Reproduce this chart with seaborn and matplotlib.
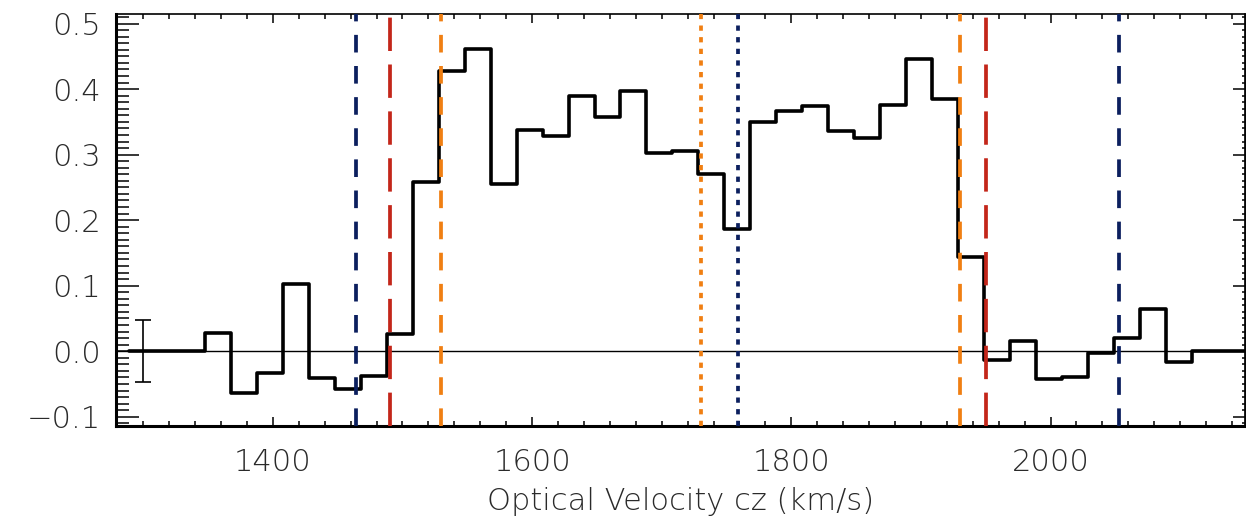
import matplotlib
matplotlib.use("Agg")
import matplotlib.pyplot as plt
from matplotlib.ticker import MultipleLocator, FuncFormatter
import numpy as np
import pandas as pd
import seaborn as sns

# ---------------- data ----------------
velocity = [1289.0, 1297.5, 1317.5, 1337.6,
            1357.6, 1377.6, 1397.7, 1417.7, 1437.8, 1457.8, 1477.8, 1497.9,
            1517.9, 1538.0, 1558.0, 1578.0, 1598.1, 1618.1, 1638.2, 1658.2,
            1678.2, 1698.3, 1718.3, 1738.4, 1758.4, 1778.4, 1798.5, 1818.5,
            1838.6, 1858.6, 1878.6, 1898.7, 1918.7, 1938.8, 1958.8, 1978.8,
            1998.9, 2018.9, 2039.0, 2059.0, 2079.0, 2099.1,
            2119.1, 2139.1, 2159.1]
flux = [0.0, 0.0, 0.0, 0.0,
        0.028, -0.063, -0.033, 0.103, -0.041, -0.058, -0.038, 0.027,
        0.258, 0.427, 0.461, 0.255, 0.337, 0.328, 0.390, 0.358,
        0.397, 0.302, 0.305, 0.270, 0.187, 0.350, 0.366, 0.374,
        0.336, 0.326, 0.376, 0.446, 0.385, 0.144, -0.013, 0.015,
        -0.042, -0.039, -0.002, 0.020, 0.065, -0.016,
        0.0, 0.0, 0.0]

# vertical marker lines (velocity, colour, style)
marker_v = [1464, 1490, 1529.5, 1730, 1759, 1930, 1950, 2053]
marker_color = ["#0b1f5e", "#c3261a", "#f07f12", "#f07f12", "#0b1f5e",
                "#f07f12", "#c3261a", "#0b1f5e"]
marker_kind = ["short", "long", "short", "dot", "dot", "short", "long", "short"]

# error bar
err_x = [1300]
err_y = [0.0]
err_size = [0.047]

x_ticks = [1400, 1600, 1800, 2000]
y_ticks = [-0.1, 0.0, 0.1, 0.2, 0.3, 0.4, 0.5]
x_label = "Optical Velocity cz (km/s)"

# ---------------- style ----------------
sns.set_theme(style="white")
plt.rcParams["font.family"] = ["DejaVu Sans"]
plt.rcParams["axes.unicode_minus"] = True
txt_color = "#2a2a2a"
fs = 22

fig = plt.figure(figsize=(12.46, 5.26), dpi=100)
ax = fig.add_axes([116 / 1246, 1 - 426 / 526, (1245 - 116) / 1246, (426 - 14) / 526])

df = pd.DataFrame({"v": velocity, "f": flux})
sns.lineplot(data=df, x="v", y="f", drawstyle="steps-mid", color="black",
             lw=2.6, ax=ax, zorder=3, estimator=None, sort=False)

ax.axhline(0.0, color="black", lw=1.0, zorder=2)

lw_v = 2.7
styles = {"short": (0, (4.7, 3.6)), "long": (0, (8.9, 3.6)), "dot": (0, (1.4, 1.7))}
for v, c, k in zip(marker_v, marker_color, marker_kind):
    ax.axvline(v, color=c, lw=lw_v, linestyle=styles[k], zorder=4)

ax.errorbar(err_x, err_y, yerr=err_size, fmt="none", ecolor="black",
            elinewidth=1.2, capsize=5.5, capthick=1.2, zorder=3)

ax.set_xlim(1279, 2150)
ax.set_ylim(-0.114, 0.5145)

ax.xaxis.set_major_locator(plt.FixedLocator(x_ticks))
ax.xaxis.set_minor_locator(MultipleLocator(20))
ax.yaxis.set_major_locator(plt.FixedLocator(y_ticks))
ax.yaxis.set_minor_locator(MultipleLocator(0.01))
ax.yaxis.set_major_formatter(FuncFormatter(lambda y, p: f"{y:.1f}".replace("-", "\u2212")))

ax.tick_params(axis="x", which="both", direction="in", top=True, bottom=True,
               color="black", width=1.1, labelsize=fs, labelcolor=txt_color, pad=16)
ax.tick_params(axis="x", which="major", length=6.5)
ax.tick_params(axis="x", which="minor", length=3.6)
ax.tick_params(axis="y", which="both", direction="in", left=True, right=False,
               color="black", width=1.1, labelsize=fs, labelcolor=txt_color, pad=11)
ax.tick_params(axis="y", which="major", length=16.5)
ax.tick_params(axis="y", which="minor", length=9.4)

for lab in ax.get_xticklabels() + ax.get_yticklabels():
    lab.set_fontweight("light")

# right-side ticks (shorter)
sec = ax.secondary_yaxis("right")
sec.yaxis.set_major_locator(plt.FixedLocator(y_ticks))
sec.yaxis.set_minor_locator(MultipleLocator(0.01))
sec.tick_params(axis="y", which="both", direction="in", labelright=False,
                color="black", width=1.1)
sec.tick_params(axis="y", which="major", length=8.6)
sec.tick_params(axis="y", which="minor", length=2.0)
sec.spines["right"].set_linewidth(1.0)

for side in ["left", "bottom"]:
    ax.spines[side].set_linewidth(2.2)
    ax.spines[side].set_color("black")
for side in ["top", "right"]:
    ax.spines[side].set_linewidth(1.2)
    ax.spines[side].set_color("black")

ax.set_xlabel(x_label, fontsize=fs, color=txt_color, fontweight="light", labelpad=7)
ax.set_ylabel("")

fig.savefig("out.png", dpi=100)
